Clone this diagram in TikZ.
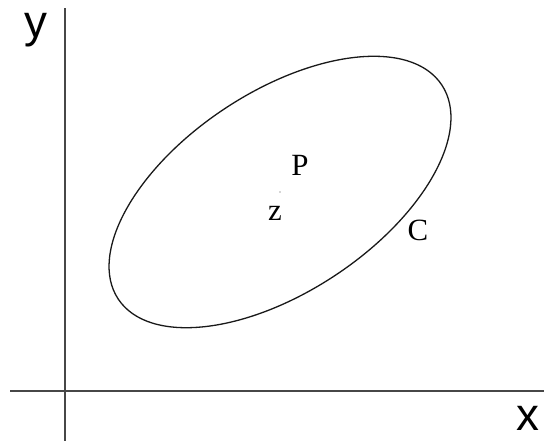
\documentclass[tikz,border=0pt]{standalone}
\usepackage{fontspec}
\setmainfont{Liberation Serif}
\newfontfamily\axisfont{Liberation Sans}
\begin{document}
\begin{tikzpicture}[x=1bp,y=1bp,
  axisline/.style={line width=1.3bp,draw=black!72},
  axislabel/.style={inner sep=0pt,anchor=base,font=\axisfont\fontsize{46}{46}\selectfont},
  ptlabel/.style={inner sep=0pt,anchor=center,font=\fontsize{31}{31}\selectfont}]
\useasboundingbox (0,0) rectangle (544,441);
% axes
\coordinate (ytop) at (65,433);
\coordinate (ybot) at (65,0);
\coordinate (xl) at (10,50);
\coordinate (xr) at (544,50);
\draw[axisline] (ybot) -- (ytop);
\draw[axisline] (xl) -- (xr);
\node[axislabel] (ylab) at (36,403) {y};
\node[axislabel] (xlab) at (528,10) {x};
% ellipse
\coordinate (z0) at (280,249);
\draw[line width=1.3bp,black!90] (z0) ellipse[x radius=194,y radius=100,rotate=33.5];
\fill[black!70] (z0) circle (0.7);
\node[ptlabel] (P) at (300,276) {P};
\node[ptlabel] (z) at (275,228) {z};
\node[ptlabel] (C) at (418,211) {C};
\end{tikzpicture}
\end{document}
